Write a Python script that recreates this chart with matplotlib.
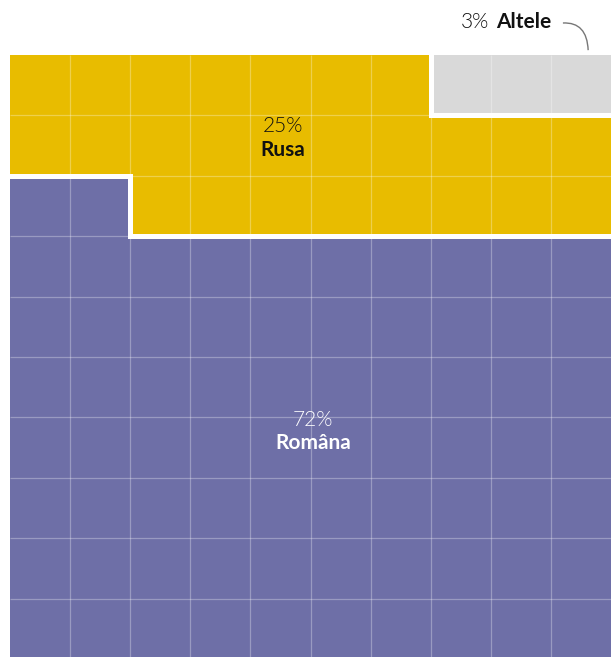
import matplotlib
matplotlib.use("Agg")
import matplotlib.pyplot as plt
from matplotlib.patches import Rectangle, PathPatch
from matplotlib.path import Path
import numpy as np

categories = ["Româna", "Rusa", "Altele"]
percents = [72, 25, 3]
colors = ["#6E6FA7", "#E8BC00", "#D9D9D9"]

NCOL, NROW = 10, 10
W, H = 611, 657
fig = plt.figure(figsize=(W / 100, H / 100), dpi=100)
left_px, top_px, cw, ch = 10, 55, 60.1, 60.4
ax = fig.add_axes([left_px / W, 1 - (top_px + NROW * ch) / H, NCOL * cw / W, NROW * ch / H])
ax.set_xlim(0, NCOL)
ax.set_ylim(NROW, 0)
ax.axis("off")

# fill grid: bottom row upward, left to right
grid = np.zeros((NROW, NCOL), dtype=int)
idx = 0
for ci, n in enumerate(percents):
    for _ in range(n):
        r = NROW - 1 - idx // NCOL
        c = idx % NCOL
        grid[r, c] = ci
        idx += 1

for r in range(NROW):
    for c in range(NCOL):
        ax.add_patch(Rectangle((c, r), 1, 1, facecolor=colors[grid[r, c]], edgecolor="none", zorder=1))

# thin grid lines
for k in range(1, NCOL):
    ax.plot([k, k], [0, NROW], color="white", alpha=0.3, lw=0.9, zorder=2, solid_capstyle="butt")
for k in range(1, NROW):
    ax.plot([0, NCOL], [k, k], color="white", alpha=0.3, lw=0.9, zorder=2, solid_capstyle="butt")

# thick separators between categories
for r in range(NROW):
    for c in range(NCOL):
        if c + 1 < NCOL and grid[r, c] != grid[r, c + 1]:
            ax.plot([c + 1, c + 1], [r, r + 1], color="white", lw=3.6, zorder=3, solid_capstyle="projecting")
        if r + 1 < NROW and grid[r, c] != grid[r + 1, c]:
            ax.plot([c, c + 1], [r + 1, r + 1], color="white", lw=3.6, zorder=3, solid_capstyle="projecting")

fam = ["Lato", "DejaVu Sans"]
fs = 15
lw_pct = 300
ax.text(4.54, 1.18, f"{percents[1]}%", ha="center", va="center", fontsize=fs, family=fam, fontweight=lw_pct, color="#111111", zorder=5)
ax.text(4.54, 1.58, categories[1], ha="center", va="center", fontsize=fs, family=fam, fontweight="bold", color="#111111", zorder=5)
ax.text(5.04, 6.05, f"{percents[0]}%", ha="center", va="center", fontsize=fs, family=fam, fontweight=lw_pct, color="white", zorder=5)
ax.text(5.04, 6.43, categories[0], ha="center", va="center", fontsize=fs, family=fam, fontweight="bold", color="white", zorder=5)
ax.text(7.97, -0.55, f"{percents[2]}%", ha="right", va="center", fontsize=fs, family=fam, fontweight=lw_pct, color="#111111", clip_on=False)
ax.text(8.09, -0.55, categories[2], ha="left", va="center", fontsize=fs, family=fam, fontweight="bold", color="#111111", clip_on=False)

path = Path([(9.2, -0.53), (9.6, -0.55), (9.62, -0.08)], [Path.MOVETO, Path.CURVE3, Path.CURVE3])
ax.add_patch(PathPatch(path, facecolor="none", edgecolor="#777777", lw=1.0, clip_on=False))

fig.savefig("out.png", dpi=100)
